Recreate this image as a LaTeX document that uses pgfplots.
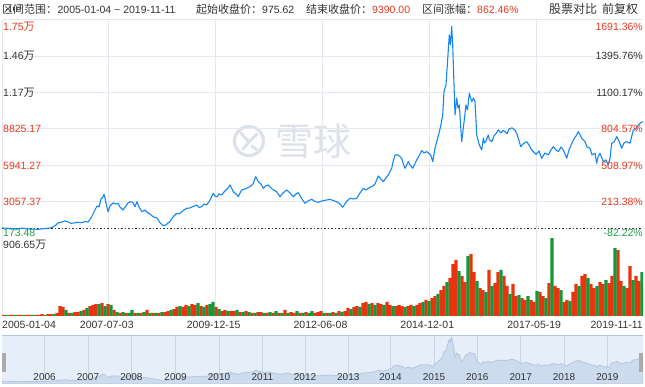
\documentclass[border=0pt]{standalone}
\usepackage{pgfplots}
\pgfplotsset{compat=1.18}
\usepackage{pgfplotstable}
\usepackage{fontspec}
\setmainfont{Liberation Sans}
\newfontfamily\cjk{Noto Sans CJK SC}
\newcommand{\zh}[1]{{\cjk\fontsize{11bp}{12bp}\selectfont #1}}
\definecolor{txtgray}{HTML}{333333}
\definecolor{upred}{HTML}{E5391F}
\definecolor{dngreen}{HTML}{1E9E45}
\definecolor{linblue}{HTML}{1487F5}
\definecolor{gridc}{HTML}{E7E8EF}
\definecolor{volred}{HTML}{E8350F}
\definecolor{volgreen}{HTML}{12993A}
\definecolor{navbg}{HTML}{E5EEF9}
\definecolor{navarea}{HTML}{CDDBEF}
\definecolor{navline}{HTML}{B3C4DC}
\definecolor{navgrid}{HTML}{C9D6E8}
\definecolor{wm}{HTML}{DDE1E8}

% x = horizontal position on the time axis (2 = 2005-01-04, 643 = 2019-11-11)
\pgfplotstableread{
x y
2 976
8 950
15 910
22 958
30 894
38 871
45 926
50 976
53 1053
56 1211
58 1370
62 1449
65 1528
68 1449
71 1346
74 1370
78 1425
82 1394
85 1489
88 1449
91 1766
94 2241
97 2717
99 2637
101 3271
103 3430
104 3644
105 3351
106 2954
108 2265
110 2717
113 2954
116 2875
118 2915
120 2637
123 2400
126 2717
128 2954
130 3057
133 2994
135 2661
137 3057
139 2637
142 2265
145 2400
148 2162
150 2083
153 1869
157 1766
160 1394
163 1172
166 1211
168 1370
170 1473
173 1845
176.7 2138
179 2083
181.7 2265
184 2400
186.7 2534
190 2558
193 2677
196.7 2796
199 2598
201.7 2661
204 2875
206.7 2796
210 3192
213.3 3723
215 3509
217 3430
219 3668
221.7 3588
224 3826
226 3984
228 4143
230 4381
232 4064
233.3 3850
236 3668
238.3 3454
240 3747
241.7 3984
245 4064
250 4246
253 4460
255.7 5038
258.3 4642
261 4460
263.3 4119
266 4301
268.3 4381
272 4064
276.7 3850
280 3454
283 3747
286.7 3984
290 3747
293.3 3454
296 3668
298.3 3771
302 3271
305 2931
308 3113
311.7 3247
315 3073
318.3 3010
322 3113
326.7 3192
330 3247
333 3153
336.7 3057
340 2875
342.7 2614
345 2875
347 3113
350 3327
353 3271
356.7 3327
360 3747
363.3 4119
366 3984
370 4198
373 4301
375 4460
378.3 5094
380 4935
383.3 4642
386 4935
388.3 5173
391.7 5704
393 6203
395 6758
398.3 6758
401.7 6496
403 6124
405 5704
408.3 6227
410 5965
412.7 5704
416.7 6361
419 6678
421.7 7098
424 6916
426.7 7019
430.7 6758
432.7 6227
435 7288
438.3 8263
440.7 9055
442.7 9927
444 11773
446 12303
447.3 13888
449.3 16265
450.5 15473
451.7 16923
452.7 15473
454 12303
455 9927
456.7 11250
458 10481
459.3 10719
461.7 7811
463.3 8873
466 10719
467.5 10323
469.3 11646
471.7 10980
473.5 11273
475 10980
476.7 8342
479.3 7550
481.7 7154
483.3 8081
484.5 7700
486 7866
488.3 8342
489.5 7950
491.7 7811
494 8263
496 8450
498.3 8738
501 8500
503 8700
505 8604
507 8450
509 8817
512 8900
515 8738
517 8400
518.3 8081
520.7 7415
523 7629
526.7 7811
529 7550
531.7 7154
536 6813
539 7074
541.7 6496
545 6916
548.3 6758
551 7154
553.3 7415
556 7154
558.3 7019
561 7391
563.3 7154
566.7 6496
569 7154
573.3 7946
576 8263
578.3 8604
581.7 8081
585 7811
587 7391
590 7288
592 6758
595 6892
596.7 6100
598 6599
600 6892
603.3 6227
606 6361
608.3 5965
610 6520
611.7 7684
614 7787
616.7 8207
619 7866
621.7 7288
624 7708
626.7 7811
630 7684
633.3 8738
636 8817
638.3 9134
641 9332
643 9390
}\price

% volume in 10^4 (wan)
\pgfplotstableread{
x v
3 12
9 12
12 12
18 12
21 12
27 12
30 12
36 12
39 12
42 23
48 23
51 23
57 35
60 116
63 105
69 35
75 46
78 46
84 70
90 116
93 128
96 139
102 151
108 139
114 70
120 35
126 35
135 35
141 35
147 70
153 35
159 35
165 46
168 58
174 81
177 105
183 105
186 128
192 139
195 128
201 116
207 128
216 105
222 58
225 70
231 58
234 58
240 46
246 58
252 35
258 46
261 46
267 35
273 35
279 35
285 70
291 46
294 35
300 35
306 46
315 35
318 46
321 58
327 35
333 46
339 58
345 58
348 93
354 105
357 116
363 151
366 163
372 151
378 151
381 139
387 163
390 128
396 116
399 128
402 116
408 116
411 128
417 128
420 151
426 186
432 209
435 232
441 302
444 349
450 442
453 604
456 651
462 465
465 395
471 720
474 511
480 325
483 302
489 535
495 383
498 511
504 465
507 349
513 372
516 232
522 209
525 186
531 186
534 163
540 279
543 232
549 383
555 349
558 325
564 163
567 186
573 279
576 372
582 465
585 488
591 372
594 325
600 395
603 372
609 383
612 465
618 767
621 407
627 325
630 581
636 465
639 407
}\volred

\pgfplotstableread{
x v
6 12
15 12
24 12
33 12
45 12
54 23
66 70
72 35
81 58
87 93
99 139
105 116
111 128
117 46
123 46
129 35
132 70
138 35
144 46
150 35
156 35
162 46
171 70
180 116
189 116
198 151
204 105
210 139
213 163
219 81
228 58
237 70
243 46
249 46
255 35
264 35
270 46
276 58
282 35
288 35
297 58
303 35
309 35
312 58
324 35
330 35
336 35
342 46
351 81
360 105
369 139
375 128
384 128
393 116
405 105
414 116
423 163
429 174
438 256
447 395
459 523
468 697
477 407
486 279
492 349
501 535
510 256
519 244
528 232
537 291
546 209
552 906
561 302
570 174
579 349
588 442
597 349
606 418
615 790
624 349
633 418
642 511
}\volgreen

\pgfplotsset{
  panel/.style={anchor=south west, scale only axis, width=641bp,
    xmin=2, xmax=643, ytick=\empty, xticklabels={}, yticklabels={},
    major tick length=0pt, axis line style={draw=none},
    xmajorgrids, clip=true}
}

\begin{document}
\begin{tikzpicture}
\path[use as bounding box] (0bp,0bp) rectangle (645bp,387bp);

% watermark
\draw[wm, line width=3.2bp] (249bp,246bp) circle (14.5bp);
\draw[wm, line width=3bp, line cap=round, line join=round] (241bp,254bp) -- (249bp,245bp) -- (257bp,253bp);
\draw[wm, line width=3bp, line cap=round] (249bp,245bp) -- (243bp,238bp);
\draw[wm, line width=3bp, line cap=round] (252bp,241bp) -- (257bp,237bp);
\node[text=wm, inner sep=0pt] at (313bp,246bp) {\cjk\fontsize{38bp}{40bp}\selectfont 雪球};

% main price panel
\begin{axis}[panel, at={(2bp,148.9bp)}, height=218.5bp,
  ymin=173.48, ymax=17476.87,
  xtick={2,108.83,215.67,322.5,429.33,536.17},
  ytick={3057.37,5941.27,8825.17,11709.07,14592.97,17476.87},
  ymajorgrids, grid style={gridc, line width=0.8bp}]
\addplot[black!80, line width=0.8bp, dash pattern=on 1.5bp off 2bp] coordinates {(2,975.62) (643,975.62)};
\addplot[linblue, line width=1.1bp, line join=round] table[x=x,y=y] {\price};
\end{axis}

% volume panel
\begin{axis}[panel, at={(2bp,71bp)}, height=78bp,
  ymin=0, ymax=906.65,
  xtick={2,108.83,215.67,322.5,429.33,536.17},
  grid style={gridc, line width=0.8bp}]
\addplot[ybar, bar width=3.1, bar shift=0pt, fill=volred, draw=none] table[x=x,y=v] {\volred};
\addplot[ybar, bar width=3.1, bar shift=0pt, fill=volgreen, draw=none] table[x=x,y=v] {\volgreen};
\end{axis}

% navigator
\begin{axis}[panel, at={(2bp,3bp)}, height=49bp,
  ymin=0, ymax=17800,
  xtick={44.6,88,131.4,175.6,219,262.4,305,348.3,390.5,434,477.3,520.7,564,607.4},
  axis background/.style={fill=navbg},
  grid style={navgrid, line width=0.7bp}]
\addplot[fill=navarea, draw=navline, line width=0.7bp] table[x=x,y=y] {\price} \closedcycle;
\end{axis}
\draw[navline, line width=0.8bp] (2bp,52bp) -- (643bp,52bp);
\fill[black!33] (2bp,15bp) rectangle (6bp,34bp);
\fill[black!33] (639bp,15bp) rectangle (643bp,34bp);

% navigator year labels
\begin{scope}[every node/.style={inner sep=0pt, text=txtgray, font=\fontsize{10bp}{12bp}\selectfont}]
\node at (44.6bp,10bp) {2006};
\node at (88bp,10bp) {2007};
\node at (131.4bp,10bp) {2008};
\node at (175.6bp,10bp) {2009};
\node at (219bp,10bp) {2010};
\node at (262.4bp,10bp) {2011};
\node at (305bp,10bp) {2012};
\node at (348.3bp,10bp) {2013};
\node at (390.5bp,10bp) {2014};
\node at (434bp,10bp) {2015};
\node at (477.3bp,10bp) {2016};
\node at (520.7bp,10bp) {2017};
\node at (564bp,10bp) {2018};
\node at (607.4bp,10bp) {2019};
\end{scope}

% axis labels
\begin{scope}[every node/.style={inner sep=0pt, font=\fontsize{10.5bp}{12bp}\selectfont}]
\node[anchor=west, text=upred] at (3bp,360bp) {1.75\zh{万}};
\node[anchor=west, text=txtgray] at (3bp,331bp) {1.46\zh{万}};
\node[anchor=west, text=txtgray] at (3bp,294.5bp) {1.17\zh{万}};
\node[anchor=west, text=upred] at (3bp,258bp) {8825.17};
\node[anchor=west, text=upred] at (3bp,221.5bp) {5941.27};
\node[anchor=west, text=upred] at (3bp,185bp) {3057.37};
\node[anchor=west, text=dngreen] at (3bp,154bp) {173.48};
\node[anchor=east, text=upred] at (643bp,360bp) {1691.36\%};
\node[anchor=east, text=txtgray] at (643bp,331bp) {1395.76\%};
\node[anchor=east, text=txtgray] at (643bp,294.5bp) {1100.17\%};
\node[anchor=east, text=upred] at (643bp,258bp) {804.57\%};
\node[anchor=east, text=upred] at (643bp,221.5bp) {508.97\%};
\node[anchor=east, text=upred] at (643bp,185bp) {213.38\%};
\node[anchor=east, text=dngreen] at (643bp,154bp) {-82.22\%};
\node[anchor=west, text=txtgray] at (3bp,142bp) {906.65\zh{万}};
% dates
\node[anchor=west, text=txtgray] at (2bp,62bp) {2005-01-04};
\node[text=txtgray] at (106.8bp,62bp) {2007-07-03};
\node[text=txtgray] at (213.7bp,62bp) {2009-12-15};
\node[text=txtgray] at (320.5bp,62bp) {2012-06-08};
\node[text=txtgray] at (427.3bp,62bp) {2014-12-01};
\node[text=txtgray] at (534.2bp,62bp) {2017-05-19};
\node[anchor=east, text=txtgray] at (643bp,62bp) {2019-11-11};
% header
\node[anchor=west, text=txtgray] (h1) at (2bp,377.5bp) {\zh{区间范围：}};
\node[anchor=west, text=txtgray] at (h1.east) {2005-01-04 \textasciitilde{} 2019-11-11};
\node[anchor=west, text=txtgray] at (196bp,377.5bp) {\zh{起始收盘价：}975.62};
\node[anchor=west, text=txtgray] at (306bp,377.5bp) {\zh{结束收盘价：}\textcolor{upred}{9390.00}};
\node[anchor=west, text=txtgray] at (422bp,377.5bp) {\zh{区间涨幅：}\textcolor{upred}{862.46\%}};
\node[anchor=west, text=txtgray] at (549bp,378bp) {\cjk\fontsize{12bp}{13bp}\selectfont 股票对比};
\node[anchor=west, text=txtgray] at (602bp,378bp) {\cjk\fontsize{12bp}{13bp}\selectfont 前复权};
\end{scope}
\end{tikzpicture}
\end{document}
